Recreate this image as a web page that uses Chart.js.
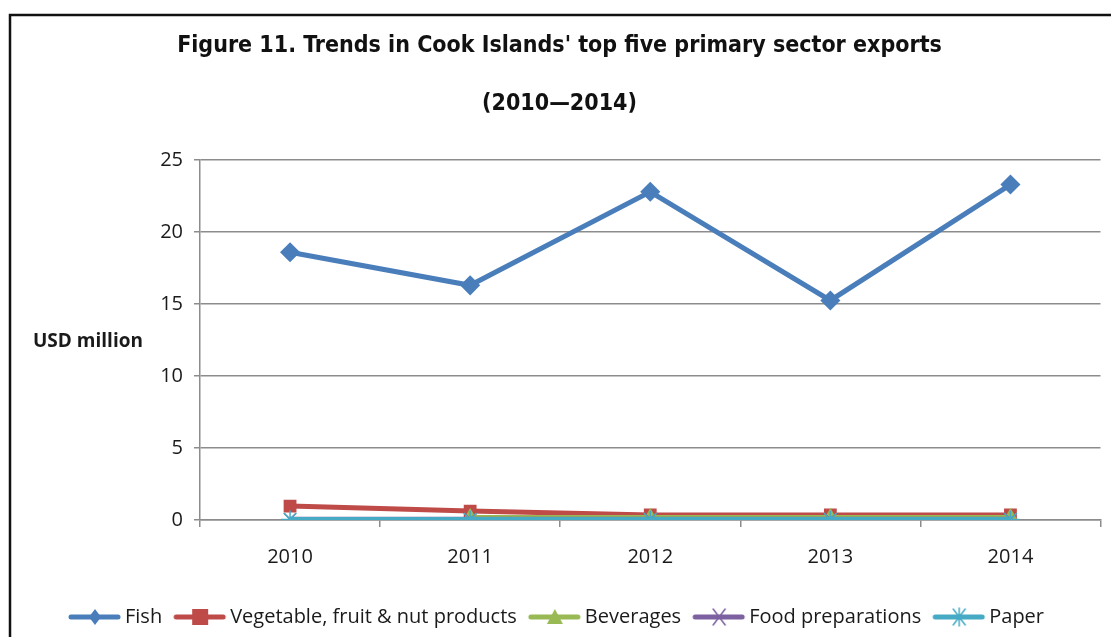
<!DOCTYPE html>
<html>
<head>
<meta charset="utf-8">
<script src="https://cdn.jsdelivr.net/npm/chart.js@4.4.1/dist/chart.umd.min.js"></script>
<style>
  html, body { margin: 0; padding: 0; background: #ffffff; }
  #wrap { width: 1111px; height: 637px; position: relative; }
</style>
</head>
<body>
<div id="wrap"><canvas id="chart" width="1111" height="637"></canvas></div>
<script>
// Export values, USD million
const years = ['2010', '2011', '2012', '2013', '2014'];
const fish = [18.6, 16.3, 22.8, 15.25, 23.3];
const vegetables = [0.97, 0.62, 0.35, 0.35, 0.35];
const beverages = [null, 0.18, 0.18, 0.18, 0.18];
const foodPreparations = [0.06, 0.06, 0.06, 0.06, 0.06];
const paper = [0.04, 0.04, 0.04, 0.04, 0.04];
const yTicks = [0, 5, 10, 15, 20, 25];

const titleLines = ["Figure 11. Trends in Cook Islands' top five primary sector exports", '(2010\u20142014)'];
const yAxisLabel = 'USD million';

const FONT = "'Open Sans', 'Liberation Sans', sans-serif";
const TITLE_FONT = "'Liberation Sans Narrow', 'DejaVu Sans Condensed', sans-serif";

// Legend swatch: a short line with the series marker in the middle
function swatch(color, style) {
  const c = document.createElement('canvas');
  c.width = 56; c.height = 20;
  const g = c.getContext('2d');
  g.strokeStyle = color; g.fillStyle = color;
  g.lineWidth = 5; g.lineCap = 'round';
  g.beginPath(); g.moveTo(4, 10); g.lineTo(51, 10); g.stroke();
  g.lineWidth = 1.5;
  const cx = 28, cy = 10;
  if (style === 'rectRot') {
    g.beginPath(); g.moveTo(cx, cy - 8); g.lineTo(cx + 6, cy); g.lineTo(cx, cy + 8); g.lineTo(cx - 6, cy); g.closePath(); g.fill();
  } else if (style === 'rect') {
    g.fillRect(cx - 8, cy - 8, 16, 16);
  } else if (style === 'triangle') {
    g.beginPath(); g.moveTo(cx, cy - 8); g.lineTo(cx + 8, cy + 7); g.lineTo(cx - 8, cy + 7); g.closePath(); g.fill();
  } else if (style === 'crossRot') {
    g.beginPath(); g.moveTo(cx - 6, cy - 8); g.lineTo(cx + 6, cy + 8); g.moveTo(cx + 6, cy - 8); g.lineTo(cx - 6, cy + 8); g.stroke();
  } else if (style === 'star') {
    g.beginPath();
    g.moveTo(cx - 6, cy - 8); g.lineTo(cx + 6, cy + 8); g.moveTo(cx + 6, cy - 8); g.lineTo(cx - 6, cy + 8);
    g.moveTo(cx, cy - 9); g.lineTo(cx, cy + 9);
    g.stroke();
  }
  return c;
}

const series = [
  { label: 'Fish', data: fish, color: '#4A7EBB', style: 'rectRot', radius: 9, order: 5 },
  { label: 'Vegetable, fruit & nut products', data: vegetables, color: '#BE4B48', style: 'rect', radius: 8, order: 4 },
  { label: 'Beverages', data: beverages, color: '#98B954', style: 'triangle', radius: 8, order: 3 },
  { label: 'Food preparations', data: foodPreparations, color: '#7D60A0', style: 'crossRot', radius: 8, order: 2 },
  { label: 'Paper', data: paper, color: '#46AAC5', style: 'star', radius: 9, order: 1 }
];

// Frame around the figure and the horizontal axis caption
const decorations = {
  id: 'decorations',
  beforeDraw(chart) {
    const ctx = chart.ctx;
    ctx.save();
    ctx.fillStyle = '#ffffff';
    ctx.fillRect(0, 0, chart.width, chart.height);
    ctx.strokeStyle = '#111111';
    ctx.lineWidth = 2.5;
    ctx.beginPath();
    ctx.moveTo(10, 700);
    ctx.lineTo(10, 15);
    ctx.lineTo(1200, 15);
    ctx.stroke();
    ctx.restore();
  },
  afterDraw(chart) {
    const ctx = chart.ctx;
    ctx.save();
    ctx.fillStyle = '#1a1a1a';
    ctx.font = "bold 19px " + FONT;
    ctx.textBaseline = 'middle';
    ctx.textAlign = 'left';
    ctx.fillText(yAxisLabel, 33, 342);
    ctx.restore();
  }
};

new Chart(document.getElementById('chart'), {
  type: 'line',
  data: {
    labels: years,
    datasets: series.map(s => ({
      label: s.label,
      data: s.data,
      order: s.order,
      borderColor: s.color,
      backgroundColor: s.color,
      borderWidth: 5,
      pointStyle: s.style,
      pointRadius: s.radius,
      pointHoverRadius: s.radius,
      pointBorderWidth: 1.5,
      pointBackgroundColor: s.color,
      pointBorderColor: s.color,
      tension: 0,
      spanGaps: false,
      legendSwatch: swatch(s.color, s.style)
    }))
  },
  options: {
    responsive: false,
    animation: false,
    events: [],
    layout: { padding: { left: 14, right: 6, top: 0, bottom: 0 } },
    plugins: {
      title: {
        display: true,
        text: titleLines,
        color: '#111111',
        font: { family: TITLE_FONT, size: 23, weight: 'bold', lineHeight: 2.48 },
        padding: { top: 18, bottom: 28 }
      },
      legend: {
        position: 'bottom',
        labels: {
          color: '#1a1a1a',
          font: { family: FONT, size: 20 },
          usePointStyle: true,
          pointStyleWidth: 40,
          padding: 18,
          sort: (a, b) => a.datasetIndex - b.datasetIndex,
          generateLabels(chart) {
            return chart.data.datasets.map((ds, i) => ({
              text: ds.label,
              datasetIndex: i,
              pointStyle: ds.legendSwatch,
              fillStyle: ds.borderColor,
              strokeStyle: ds.borderColor,
              fontColor: '#1a1a1a',
              lineWidth: 0,
              hidden: false
            }));
          }
        }
      },
      tooltip: { enabled: false }
    },
    scales: {
      x: {
        offset: true,
        grid: { display: true, drawOnChartArea: false, drawTicks: true, tickLength: 7, color: '#8c8c8c', lineWidth: 1.5, offset: true },
        border: { display: true, color: '#8c8c8c', width: 1.5 },
        ticks: { color: '#1a1a1a', font: { family: FONT, size: 20 }, padding: 18 },
        afterFit(scale) { scale.height = 69; }
      },
      y: {
        min: 0,
        max: 25,
        afterBuildTicks(scale) { scale.ticks = yTicks.map(v => ({ value: v })); },
        grid: { color: '#8c8c8c', lineWidth: 1.5, drawTicks: true, tickLength: 6 },
        border: { display: true, color: '#8c8c8c', width: 1.5 },
        ticks: { color: '#1a1a1a', font: { family: FONT, size: 20 }, padding: 11 },
        afterFit(scale) { scale.width = 186; }
      }
    }
  },
  plugins: [decorations]
});
</script>
</body>
</html>
